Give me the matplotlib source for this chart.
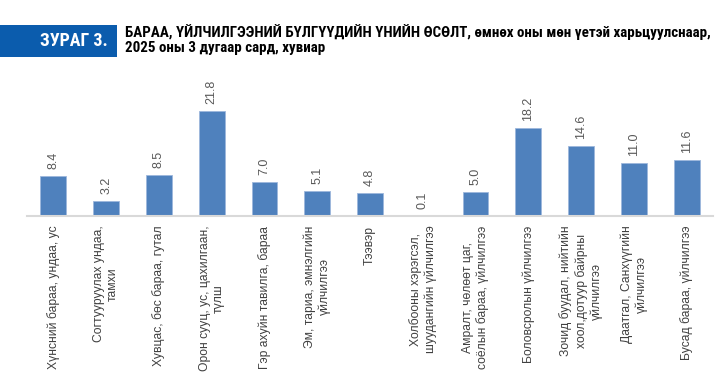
import matplotlib
matplotlib.use("Agg")
import matplotlib.pyplot as plt
from matplotlib.patches import Rectangle

# categories and values (percent change, March 2025 vs same month of previous year)
categories = [
    "Хүнсний бараа, ундаа, ус",
    "Согтууруулах ундаа,\nтамхи",
    "Хувцас, бөс бараа, гутал",
    "Орон сууц, ус, цахилгаан,\nтүлш",
    "Гэр ахуйн тавилга, бараа",
    "Эм, тариа, эмнэлгийн\nүйлчилгээ",
    "Тээвэр",
    "Холбооны хэрэгсэл,\nшуудангийн үйлчилгээ",
    "Амралт, чөлөөт цаг,\nсоёлын бараа, үйлчилгээ",
    "Боловсролын үйлчилгээ",
    "Зочид буудал, нийтийн\nхоол,дотуур байрны\nүйлчилгээ",
    "Даатгал, Санхүүгийн\nүйлчилгээ",
    "Бусад бараа, үйлчилгээ",
]
values = [8.4, 3.2, 8.5, 21.8, 7.0, 5.1, 4.8, 0.1, 5.0, 18.2, 14.6, 11.0, 11.6]

badge_text = "ЗУРАГ 3."
title_lines = ["БАРАА, ҮЙЛЧИЛГЭЭНИЙ БҮЛГҮҮДИЙН ҮНИЙН ӨСӨЛТ, өмнөх оны мөн үетэй харьцуулснаар,",
               "2025 оны 3 дугаар сард, хувиар"]

narrow = ["Liberation Sans Narrow", "Roboto Condensed", "Liberation Sans", "DejaVu Sans"]
plt.rcParams["font.family"] = ["Liberation Sans", "DejaVu Sans"]

W, H = 717, 382
fig = plt.figure(figsize=(W / 100, H / 100), dpi=100)

# axes: x from 27 to 713 px, baseline at 216 px, 4.82 px per unit
ymax = 25
ax = fig.add_axes([27 / W, 1 - 216 / H, 686 / W, ymax * 4.82 / H])
x = list(range(len(categories)))
bars = ax.bar(x, values, width=0.49, color="#4F81BD", edgecolor="#9DB7DC", linewidth=0.6)
for xi, v in zip(x, values):
    ax.annotate("%.1f" % v, (xi, v), xytext=(0, 5), textcoords="offset points",
                rotation=90, ha="center", va="bottom", fontsize=9, color="#595959",
                annotation_clip=False)

ax.set_xlim(-0.5, len(categories) - 0.5)
ax.set_ylim(0, ymax)
ax.set_yticks([])
ax.set_xticks(x)
ax.set_xticklabels(categories, rotation=90, ha="center", va="top", fontsize=8.7,
                   color="#404040", multialignment="center", linespacing=1.25)
ax.tick_params(axis="x", length=0, pad=7)
for s in ["top", "right", "left"]:
    ax.spines[s].set_visible(False)
ax.spines["bottom"].set_color("#D9D9D9")
ax.spines["bottom"].set_linewidth(1.5)

# header badge and title
fig.patches.append(Rectangle((0, 1 - 57 / H), 117 / W, 32 / H, transform=fig.transFigure,
                             facecolor="#0B5CAD", edgecolor="none"))
fig.text(108 / W, 1 - 41 / H, badge_text, color="white", fontsize=13, fontweight="bold",
         ha="right", va="center", family=narrow)
fig.text(125 / W, 1 - 37 / H, title_lines[0], fontsize=10.8, fontweight="bold",
         ha="left", va="baseline", family=narrow, color="black")
fig.text(125 / W, 1 - 52 / H, title_lines[1], fontsize=10.8, fontweight="bold",
         ha="left", va="baseline", family=narrow, color="black")

fig.savefig("out.png", dpi=100)
